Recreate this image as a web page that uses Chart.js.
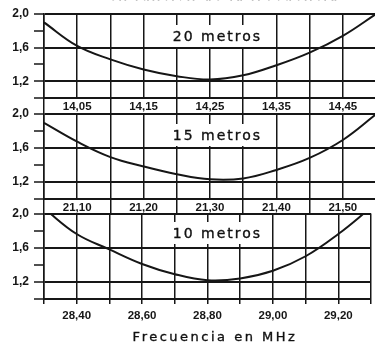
<!DOCTYPE html>
<html>
<head>
<meta charset="UTF-8">
<title>ROE en funcion de la frecuencia</title>
<script src="https://cdn.jsdelivr.net/npm/chart.js"></script>
<style>
  body { margin:0; background:#fff; width:375px; height:345px; overflow:hidden; position:relative; font-family:"DejaVu Sans", sans-serif; color:#111; }
  .panel { position:absolute; left:0; width:376px; }
  .txt { position:absolute; white-space:nowrap; text-align:center; -webkit-text-stroke:0.35px #111; }
  .band { background:#fff; font-size:14px; letter-spacing:2px; line-height:22px; height:22px; left:170px; width:95px; }
</style>
</head>
<body>
<div class="panel" style="top:0;height:113px"><canvas id="c20"></canvas></div>
<div class="panel" style="top:100px;height:114px"><canvas id="c15"></canvas></div>
<div class="panel" style="top:200px;height:145px"><canvas id="c10"></canvas></div>

<div class="txt" style="top:-12px;left:90px;width:267px;font-size:14px;line-height:14px;letter-spacing:1.5px">en función de la frecuencia</div>
<div class="txt band" style="top:25px">20 metros</div>
<div class="txt band" style="top:124px">15 metros</div>
<div class="txt band" style="top:222px">10 metros</div>
<div class="txt" style="top:330px;left:95px;width:240px;font-size:13px;line-height:13px;letter-spacing:2.5px">Frecuencia en MHz</div>

<script>
const freq20 = [14.00, 14.05, 14.10, 14.15, 14.20, 14.25, 14.30, 14.35, 14.40, 14.45, 14.50];
const swr20  = [1.90, 1.62, 1.46, 1.34, 1.26, 1.22, 1.27, 1.39, 1.54, 1.74, 2.00];
const labels20 = [14.05, 14.15, 14.25, 14.35, 14.45];

const freq15 = [21.05, 21.10, 21.15, 21.20, 21.25, 21.30, 21.35, 21.40, 21.45, 21.50, 21.55];
const swr15  = [1.89, 1.67, 1.49, 1.38, 1.29, 1.23, 1.24, 1.34, 1.48, 1.69, 1.99];
const labels15 = [21.10, 21.20, 21.30, 21.40, 21.50];

const freq10 = [28.30, 28.40, 28.50, 28.60, 28.70, 28.80, 28.90, 29.00, 29.10, 29.20, 29.30];
const swr10  = [2.06, 1.76, 1.58, 1.41, 1.29, 1.22, 1.24, 1.33, 1.50, 1.76, 2.07];
const labels10 = [28.40, 28.60, 28.80, 29.00, 29.20];

const swrTicks  = [1.0, 1.2, 1.4, 1.6, 1.8, 2.0];
const swrLabels = [1.2, 1.6, 2.0];

const ink = '#161616';
const has = (arr, v) => arr.some(a => Math.abs(a - v) < 1e-6);
const coma = (v, d) => v.toFixed(d).replace('.', ',');

function panel(id, freq, swr, labels, opt) {
  new Chart(document.getElementById(id), {
    type: 'line',
    data: {
      datasets: [{
        data: freq.map((f, i) => ({ x: f, y: swr[i] })),
        borderColor: ink,
        borderWidth: 2,
        pointRadius: 0,
        tension: 0.4,
        fill: false
      }]
    },
    options: {
      responsive: true,
      maintainAspectRatio: false,
      animation: false,
      layout: { padding: { top: opt.top, left: 0, right: 0, bottom: 0 } },
      plugins: { legend: { display: false }, tooltip: { enabled: false } },
      scales: {
        x: {
          type: 'linear',
          min: freq[0],
          max: freq[freq.length - 1],
          afterBuildTicks: s => { s.ticks = freq.map(v => ({ value: v })); },
          afterFit: s => { s.height = opt.axisH; },
          grid: { color: ink, lineWidth: 1.5, tickLength: opt.tickLen, tickColor: ink, tickWidth: 1.5 },
          border: { display: true, color: ink, width: 2 },
          ticks: {
            autoSkip: false,
            maxRotation: 0,
            padding: opt.pad,
            color: ink,
            font: { family: 'Liberation Sans', size: 11.5, weight: 'bold' },
            callback: v => has(labels, v) ? coma(v, 2) : '',
            showLabelBackdrop: c => has(labels, c.tick.value),
            backdropColor: '#fff',
            backdropPadding: { x: 2, y: 1 }
          }
        },
        y: {
          min: 1,
          max: 2,
          afterBuildTicks: s => { s.ticks = swrTicks.map(v => ({ value: v })); },
          afterFit: s => { s.width = 44; },
          grid: {
            color: c => has(swrLabels, c.tick.value) || c.tick.value === 1 ? ink : 'rgba(0,0,0,0)',
            lineWidth: 2,
            tickLength: 10,
            tickColor: ink,
            tickWidth: 1.5
          },
          border: { display: true, color: ink, width: 1.5 },
          ticks: {
            autoSkip: false,
            padding: 5,
            color: ink,
            font: { family: 'Liberation Sans', size: 12, weight: 'bold' },
            callback: v => has(swrLabels, v) ? coma(v, 1) : ''
          }
        }
      }
    }
  });
}

panel('c20', freq20, swr20, labels20, { top: 14, axisH: 15, tickLen: 15, pad: -13 });
panel('c15', freq15, swr15, labels15, { top: 13.5, axisH: 15, tickLen: 15, pad: -13 });
panel('c10', freq10, swr10, labels10, { top: 13.5, axisH: 46, tickLen: 5, pad: 5 });
</script>
</body>
</html>
